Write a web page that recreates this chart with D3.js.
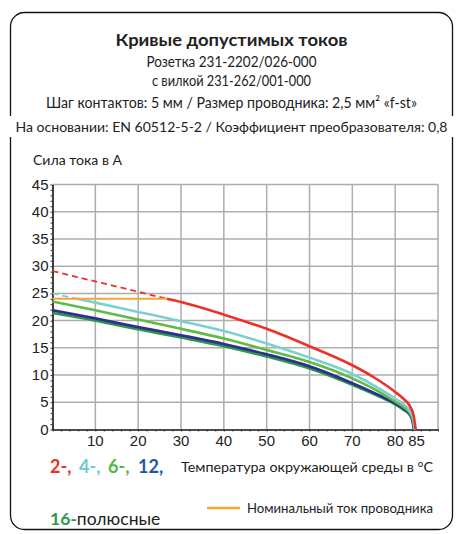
<!DOCTYPE html>
<html>
<head>
<meta charset="utf-8">
<script src="https://cdn.jsdelivr.net/npm/d3@7"></script>
<style>
  body { margin: 0; background: #fff; }
  svg { display: block; }
  .txt { font-family: Lato, "Open Sans", sans-serif; fill: #222; }
  .num { font-family: "Liberation Sans", Arial, sans-serif; font-size: 15px; fill: #222; }
</style>
</head>
<body>
<svg width="456" height="534"></svg>
<script>
// temperature (°C) and current (A)
var redT   = [0, 10, 20, 26.7, 30, 40, 50, 60, 70, 75, 80, 82, 83.5, 84.3, 84.8];
var redA   = [29.1, 27.2, 25.3, 24.0, 23.4, 21.1, 18.5, 15.3, 11.8, 9.6, 6.9, 5.6, 4.2, 2.6, 0];
var cyanT  = [0, 5.8, 10, 20, 30, 40, 50, 60, 70, 77, 80, 82, 83.5, 84.2, 84.6];
var cyanA  = [25.0, 24.0, 23.3, 21.6, 19.9, 18.1, 15.8, 13.2, 10.2, 7.2, 5.7, 4.6, 3.3, 2.0, 0];
var greenT = [0, 10, 20, 30, 40, 50, 60, 70, 77, 80, 82, 83.5, 84.2, 84.5];
var greenA = [23.5, 21.9, 20.2, 18.5, 16.7, 14.6, 12.4, 9.4, 6.6, 5.1, 4.1, 2.9, 1.7, 0];
var navyT  = [0, 10, 20, 30, 40, 50, 60, 70, 77, 80, 82, 83.5, 84.1, 84.4];
var navyA  = [21.9, 20.4, 18.8, 17.3, 15.7, 13.8, 11.6, 8.5, 6.0, 4.8, 3.8, 2.7, 1.5, 0];
var dgreenT = [0, 10, 20, 30, 40, 50, 60, 70, 77, 80, 82, 83.5, 84.1, 84.4];
var dgreenA = [21.4, 20.0, 18.4, 16.9, 15.3, 13.4, 11.2, 8.2, 5.8, 4.6, 3.6, 2.6, 1.4, 0];
var ratedT = [0, 26.7];
var ratedA = [24, 24];
var ratedLimit = 24;

var xTicks = [10, 20, 30, 40, 50, 60, 70, 80, 85];
var xGrid = [10, 20, 30, 40, 50, 60, 70, 80, 90];
var yTicks = [0, 5, 10, 15, 20, 25, 30, 35, 40, 45];

var svg = d3.select("svg");

var x = d3.scaleLinear().domain([0, 90]).range([52.5, 438]);
var y = d3.scaleLinear().domain([0, 45]).range([429.5, 184.5]);

// frame: rounded box, open where the long line of text runs across it
var fL = 10.5, fR = 452.5, fT = 12.5, fB = 529.5, fr = 14, gapTop = 116, gapBot = 137;
var frameTop = d3.path();
frameTop.moveTo(fL, gapTop);
frameTop.lineTo(fL, fT + fr);
frameTop.arcTo(fL, fT, fL + fr, fT, fr);
frameTop.lineTo(fR - fr, fT);
frameTop.arcTo(fR, fT, fR, fT + fr, fr);
frameTop.lineTo(fR, gapTop);
var frameBot = d3.path();
frameBot.moveTo(fL, gapBot);
frameBot.lineTo(fL, fB - fr);
frameBot.arcTo(fL, fB, fL + fr, fB, fr);
frameBot.lineTo(fR - fr, fB);
frameBot.arcTo(fR, fB, fR, fB - fr, fr);
frameBot.lineTo(fR, gapBot);
svg.selectAll(".frame").data([frameTop.toString(), frameBot.toString()]).enter().append("path")
  .attr("d", d => d).attr("fill", "none").attr("stroke", "#111").attr("stroke-width", 1.3);

// heading
function line(t, yy, size, w, bold) {
  return svg.append("text").attr("class", "txt")
    .attr("x", 231.5).attr("y", yy)
    .attr("text-anchor", "middle")
    .attr("font-size", size)
    .attr("font-weight", bold ? "bold" : "normal")
    .attr("textLength", w).attr("lengthAdjust", "spacingAndGlyphs")
    .text(t);
}
line("Кривые допустимых токов", 46, 17, 232, true);
line("Розетка 231-2202/026-000", 67, 14.5, 170);
line("с вилкой 231-262/001-000", 86, 14.5, 159);
line("Шаг контактов: 5 мм / Размер проводника: 2,5 мм² «f-st»", 108, 14.5, 371);
line("На основании: EN 60512-5-2 / Коэффициент преобразователя: 0,8", 132, 13.5, 432);

svg.append("text").attr("class", "txt")
  .attr("x", 33).attr("y", 165).attr("font-size", 13.5)
  .attr("textLength", 89).attr("lengthAdjust", "spacingAndGlyphs")
  .text("Сила тока в А");

// grid
var grid = svg.append("g").attr("stroke", "#adadad").attr("stroke-width", 1.5);
grid.selectAll(".gx").data(xGrid).enter().append("line")
  .attr("x1", d => x(d)).attr("x2", d => x(d))
  .attr("y1", y(0)).attr("y2", y(45));
grid.selectAll(".gy").data(yTicks.slice(1)).enter().append("line")
  .attr("y1", d => y(d)).attr("y2", d => y(d))
  .attr("x1", x(0)).attr("x2", x(90));

// axes with minor ticks
var xAxis = svg.append("g").attr("transform", "translate(0," + y(0) + ")")
  .call(d3.axisBottom(x).tickValues(d3.range(0, 91, 2)).tickSize(2).tickSizeOuter(0).tickFormat(""));
xAxis.selectAll("line").attr("stroke", "#333");
xAxis.select(".domain").attr("stroke", "#111").attr("stroke-width", 1.6);

var yAxis = svg.append("g").attr("transform", "translate(" + x(0) + ",0)")
  .call(d3.axisLeft(y).tickValues(d3.range(0, 46, 1)).tickSize(2).tickSizeOuter(0).tickFormat(""));
yAxis.selectAll("line").attr("stroke", "#333");
yAxis.select(".domain").attr("stroke", "#111").attr("stroke-width", 1.6);

svg.selectAll(".xl").data(xTicks).enter().append("text")
  .attr("class", "num").attr("x", d => x(d)).attr("y", 446)
  .attr("text-anchor", "middle").text(d => d);
svg.selectAll(".yl").data(yTicks).enter().append("text")
  .attr("class", "num").attr("x", 48.5).attr("y", d => y(d) + 5)
  .attr("text-anchor", "end").text(d => d);

// curves
var gen = d3.line().x(d => x(d[0])).y(d => y(d[1])).curve(d3.curveMonotoneX);
function pts(ts, as) { return ts.map((t, i) => [t, as[i]]); }

function curve(ts, as, color, w) {
  var p = pts(ts, as);
  var above = p.filter(d => d[1] >= ratedLimit);
  var below = p.filter(d => d[1] <= ratedLimit);
  if (above.length > 1)
    svg.append("path").attr("d", gen(above)).attr("fill", "none")
      .attr("stroke", color).attr("stroke-width", 1.8).attr("stroke-dasharray", "6,4");
  svg.append("path").attr("d", gen(below)).attr("fill", "none")
    .attr("stroke", color).attr("stroke-width", w);
}
curve(dgreenT, dgreenA, "#2b9a48", 2.6);
curve(navyT, navyA, "#302f8f", 2.8);
curve(greenT, greenA, "#5dbb46", 2.6);
curve(cyanT, cyanA, "#7ecfd2", 2.6);
curve(redT, redA, "#ec3127", 2.6);

svg.append("path").attr("d", gen(pts(ratedT, ratedA))).attr("fill", "none")
  .attr("stroke", "#f7a535").attr("stroke-width", 2);

// x label
svg.append("text").attr("class", "txt")
  .attr("x", 433).attr("y", 472).attr("text-anchor", "end").attr("font-size", 13.5)
  .attr("textLength", 252).attr("lengthAdjust", "spacingAndGlyphs")
  .text("Температура окружающей среды в °C");

// legend
var poles = [["2-,", "#ec3127", 50], ["4-,", "#6ccad4", 79], ["6-,", "#4fb847", 108], ["12,", "#1f57a6", 138]];
svg.selectAll(".pole").data(poles).enter().append("text")
  .attr("class", "txt").attr("x", d => d[2]).attr("y", 473)
  .attr("font-size", 18).attr("font-weight", "bold")
  .style("fill", d => d[1])
  .text(d => d[0]);
var lg2 = svg.append("text").attr("class", "txt").attr("x", 50).attr("y", 525).attr("font-size", 17.5);
lg2.append("tspan").style("fill", "#2b9a48").attr("font-weight", "bold").text("16-");
lg2.append("tspan").style("fill", "#222").text("полюсные");

svg.append("line").attr("x1", 207).attr("x2", 240).attr("y1", 508).attr("y2", 508)
  .attr("stroke", "#f7a535").attr("stroke-width", 2.5);
svg.append("text").attr("class", "txt")
  .attr("x", 247).attr("y", 513).attr("font-size", 13.5)
  .attr("textLength", 186).attr("lengthAdjust", "spacingAndGlyphs")
  .text("Номинальный ток проводника");
</script>
</body>
</html>
